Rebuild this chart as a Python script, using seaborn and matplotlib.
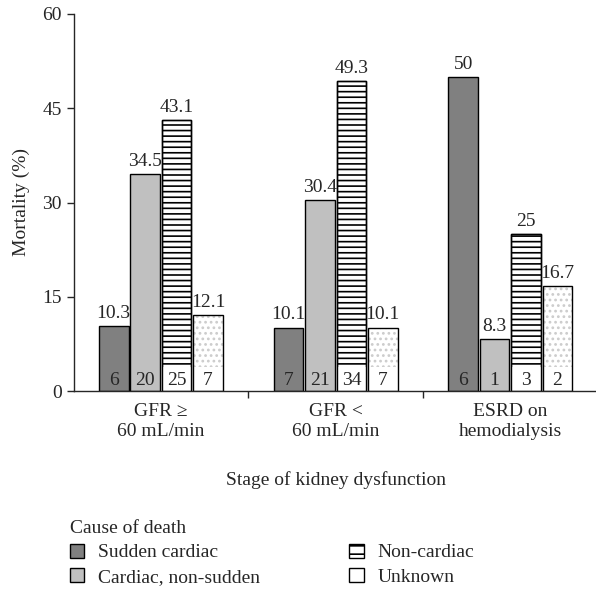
import matplotlib
matplotlib.use("Agg")
import matplotlib.pyplot as plt
from matplotlib.patches import Patch, Rectangle
import pandas as pd
import seaborn as sns

# ── Data ──────────────────────────────────────────────────────────────────────
STAGES = ["GFR \u2265\n60 mL/min", "GFR <\n60 mL/min", "ESRD on\nhemodialysis"]
CAUSES = ["Sudden cardiac", "Cardiac, non-sudden", "Non-cardiac", "Unknown"]
SUDDEN    = [10.3, 10.1, 50.0]
NONSUDDEN = [34.5, 30.4, 8.3]
NONCARD   = [43.1, 49.3, 25.0]
UNKNOWN   = [12.1, 10.1, 16.7]
VALUE_LABELS = [["10.3", "10.1", "50"], ["34.5", "30.4", "8.3"],
                ["43.1", "49.3", "25"], ["12.1", "10.1", "16.7"]]
COUNTS = [[6, 7, 6], [20, 21, 1], [25, 34, 3], [7, 7, 2]]

SERIES = [SUDDEN, NONSUDDEN, NONCARD, UNKNOWN]
rows = []
for cause, vals in zip(CAUSES, SERIES):
    for stage, v in zip(STAGES, vals):
        rows.append({"stage": stage, "cause": cause, "mortality": v})
df = pd.DataFrame(rows)

FACES = ["#808080", "#c0c0c0", "white", "white"]

sns.set_style("ticks")
plt.rcParams["font.family"] = ["Liberation Serif", "DejaVu Serif"]
plt.rcParams["hatch.linewidth"] = 1.2
FS = 14

fig = plt.figure(figsize=(5.96, 5.90), dpi=100)
# axis: x from 73.6 px to ~598 px, y from 391 px (0) up to 14 px (60)
ax = fig.add_axes([73.6 / 596, 199 / 590, 524 / 596, 377 / 590])

sns.barplot(data=df, x="stage", y="mortality", hue="cause", hue_order=CAUSES,
            order=STAGES, palette=FACES, edgecolor="black", linewidth=1.0,
            width=0.72, gap=0.06, saturation=1, legend=False, ax=ax)

for i, cont in enumerate(ax.containers):
    for j, bar in enumerate(cont):
        x0, w, h = bar.get_x(), bar.get_width(), bar.get_height()
        if i == 2:
            bar.set_hatch("---")
        if i == 3:
            bar.set_edgecolor("#cccccc")
            bar.set_hatch("...")
            bar.set_linewidth(0)
        if i >= 2:
            # white box behind the count
            ax.add_patch(Rectangle((x0, 0), w, 3.8, facecolor="white",
                                   edgecolor="none", zorder=bar.get_zorder() + 0.1))
            ax.add_patch(Rectangle((x0, 0), w, h, fill=False, edgecolor="black",
                                   linewidth=1.0, zorder=bar.get_zorder() + 0.2))
        ax.text(x0 + w / 2, 0.25, str(COUNTS[i][j]), ha="center", va="bottom",
                fontsize=FS, zorder=5)
    ax.bar_label(cont, labels=VALUE_LABELS[i], padding=3, fontsize=FS)

ax.set_ylim(0, 60)
ax.set_xlim(-0.5, 2.5)
ax.set_yticks([0, 15, 30, 45, 60])
ax.tick_params(axis="y", labelsize=FS, length=5, width=1, direction="out")

ax.set_xticks([0.5, 1.5])
ax.set_xticklabels([])
ax.set_xticks([0, 1, 2], minor=True)
ax.set_xticklabels(STAGES, minor=True, fontsize=FS)
ax.tick_params(axis="x", which="major", length=5, width=1)
ax.tick_params(axis="x", which="minor", length=0, pad=9)

ax.set_ylabel("Mortality (%)", fontsize=FS, labelpad=9)
ax.set_xlabel("Stage of kidney dysfunction", fontsize=FS, labelpad=22)
sns.despine(ax=ax)
for s in ["left", "bottom"]:
    ax.spines[s].set_linewidth(1)

handles = [Patch(facecolor=FACES[0], edgecolor="black"),
           Patch(facecolor=FACES[1], edgecolor="black"),
           Patch(facecolor="white", edgecolor="black", hatch="--"),
           Patch(facecolor="white", edgecolor="black")]
fig.legend(handles, CAUSES, title="Cause of death", loc="upper left",
           bbox_to_anchor=(60 / 596, 1 - 510 / 590), ncol=2, frameon=False,
           fontsize=FS, title_fontsize=FS, alignment="left",
           handlelength=0.75, handleheight=0.75, handletextpad=0.7,
           columnspacing=4.6, labelspacing=0.35, borderpad=0)

fig.savefig("out.png", dpi=100)
